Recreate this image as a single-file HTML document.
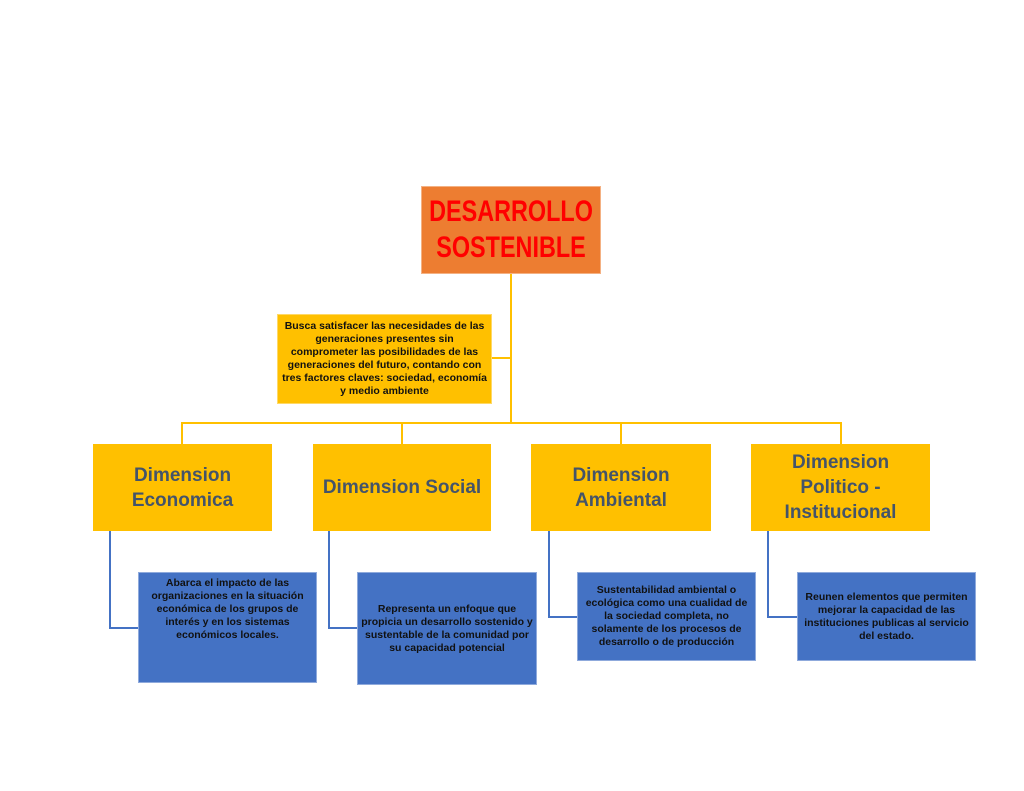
<!DOCTYPE html>
<html><head><meta charset="utf-8"><style>
body{margin:0;width:1024px;height:791px;background:#fff;position:relative;overflow:hidden;font-family:"Liberation Sans",sans-serif}
.b{position:absolute;display:flex;align-items:center;justify-content:center;text-align:center;box-sizing:border-box}
.t{background:#ED7D31;color:#f00;font-weight:bold;font-size:30px;line-height:36px;border:1px solid #f4b183}
.t span{display:inline-block;transform:scaleX(0.78);white-space:nowrap}
.d{background:#FFC000;font-weight:bold;font-size:10.5px;line-height:13px;color:#111;padding:0 4px;border:1px solid #ffd966}
.m{background:#FFC000;color:#44546A;font-weight:bold;font-size:19px;line-height:25px}
.n{background:#4472C4;font-weight:bold;font-size:10.5px;line-height:13px;color:#111;padding:0 3px;border:1px solid #8faadc}
.l{position:absolute;background:#FFC000}
.bl{position:absolute;background:#4472C4}
</style></head><body>
<div class="l" style="left:510px;top:274px;width:2px;height:150px"></div>
<div class="l" style="left:492px;top:357px;width:19px;height:2px"></div>
<div class="l" style="left:181px;top:422px;width:661px;height:2px"></div>
<div class="l" style="left:181px;top:422px;width:2px;height:22px"></div>
<div class="l" style="left:401px;top:422px;width:2px;height:22px"></div>
<div class="l" style="left:620px;top:422px;width:2px;height:22px"></div>
<div class="l" style="left:840px;top:422px;width:2px;height:22px"></div>

<div class="b t" style="left:421px;top:186px;width:180px;height:88px"><span>DESARROLLO<br>SOSTENIBLE</span></div>
<div class="b d" style="left:277px;top:314px;width:215px;height:90px">Busca satisfacer las necesidades de las generaciones presentes sin comprometer las posibilidades de las generaciones del futuro, contando con tres factores claves: sociedad, economía y medio ambiente</div>

<div class="b m" style="left:93px;top:444px;width:179px;height:87px">Dimension<br>Economica</div>
<div class="b m" style="left:313px;top:444px;width:178px;height:87px">Dimension Social</div>
<div class="b m" style="left:531px;top:444px;width:180px;height:87px">Dimension<br>Ambiental</div>
<div class="b m" style="left:751px;top:444px;width:179px;height:87px">Dimension<br>Politico -<br>Institucional</div>

<div class="bl" style="left:109px;top:531px;width:2px;height:98px"></div>
<div class="bl" style="left:109px;top:627px;width:29px;height:2px"></div>
<div class="bl" style="left:328px;top:531px;width:2px;height:98px"></div>
<div class="bl" style="left:328px;top:627px;width:29px;height:2px"></div>
<div class="bl" style="left:548px;top:531px;width:2px;height:87px"></div>
<div class="bl" style="left:548px;top:616px;width:29px;height:2px"></div>
<div class="bl" style="left:767px;top:531px;width:2px;height:87px"></div>
<div class="bl" style="left:767px;top:616px;width:30px;height:2px"></div>

<div class="b n" style="left:138px;top:572px;width:179px;height:111px;align-items:flex-start;padding-top:4px">Abarca el impacto de las organizaciones en la situación económica de los grupos de interés y en los sistemas económicos locales.</div>
<div class="b n" style="left:357px;top:572px;width:180px;height:113px">Representa un enfoque que propicia un desarrollo sostenido y sustentable de la comunidad por su capacidad potencial</div>
<div class="b n" style="left:577px;top:572px;width:179px;height:89px">Sustentabilidad ambiental o ecológica como una cualidad de la sociedad completa, no solamente de los procesos de desarrollo o de producción</div>
<div class="b n" style="left:797px;top:572px;width:179px;height:89px">Reunen elementos que permiten mejorar la capacidad de las instituciones publicas al servicio del estado.</div>
</body></html>
